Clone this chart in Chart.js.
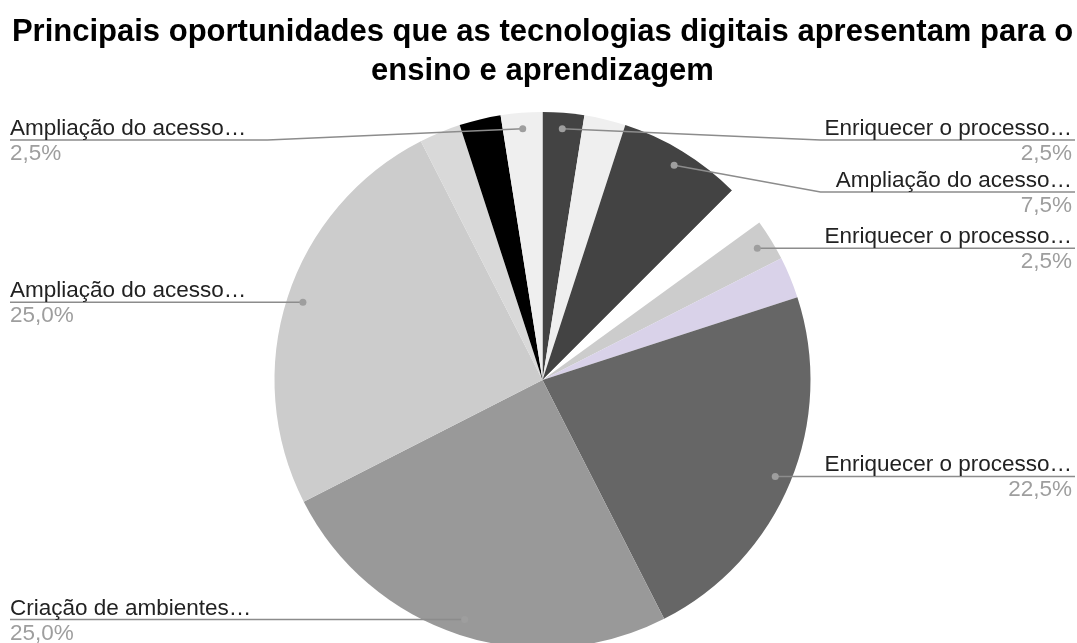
<!DOCTYPE html>
<html>
<head>
<meta charset="utf-8">
<title>Oportunidades das tecnologias digitais</title>
<script src="https://cdn.jsdelivr.net/npm/chart.js@4.4.0/dist/chart.umd.min.js"></script>
<style>
  html, body { margin: 0; padding: 0; background: #fff; overflow: hidden; }
  #wrap { position: relative; width: 1077px; height: 643px; }
</style>
</head>
<body>
<div id="wrap"><canvas id="pieChart"></canvas></div>
<script>
const TITLE_LINES = [
    'Principais oportunidades que as tecnologias digitais apresentam para o',
    'ensino e aprendizagem'
];

// slices clockwise from 12 o'clock; empty name = no outside label
const CATEGORIES = [
    'Enriquecer o processo…', '', 'Ampliação do acesso…', '',
    'Enriquecer o processo…', '', 'Enriquecer o processo…', 'Criação de ambientes…',
    'Ampliação do acesso…', '', '', 'Ampliação do acesso…'
];
const VALUES = [2.5, 2.5, 7.5, 2.5, 2.5, 2.5, 22.5, 25, 25, 2.5, 2.5, 2.5];

const SLICE_COLORS = [
    '#434343', '#efefef', '#434343', '#ffffff',
    '#cccccc', '#d9d2e9', '#666666', '#999999',
    '#cccccc', '#d9d9d9', '#000000', '#efefef'
];

const LABEL_FONT = "22.5px 'Liberation Sans', Arial, sans-serif";

function pctText(v, total) {
    return (v / total * 100).toFixed(1).replace('.', ',') + '%';
}

// leader-line labels: dot inside the slice, line out to the side, name above, % below
const leaderLabels = {
    id: 'leaderLabels',
    afterDatasetsDraw(chart, args, opts) {
        const ctx = chart.ctx;
        const meta = chart.getDatasetMeta(0);
        const values = chart.data.datasets[0].data;
        const total = values.reduce((a, b) => a + b, 0);
        const sides = { left: [], right: [] };

        meta.data.forEach((arc, i) => {
            const name = chart.data.labels[i];
            if (!name) return;
            const p = arc.getProps(['x', 'y', 'startAngle', 'endAngle', 'outerRadius'], true);
            const mid = (p.startAngle + p.endAngle) / 2;
            const r = p.outerRadius * opts.dotRatio;
            const item = {
                name: name,
                pct: pctText(values[i], total),
                dx: p.x + Math.cos(mid) * r,
                dy: p.y + Math.sin(mid) * r,
                cx: p.x,
                R: p.outerRadius
            };
            sides[Math.cos(mid) >= 0 ? 'right' : 'left'].push(item);
        });

        const minY = chart.chartArea.top + opts.topGap;
        ctx.save();
        ctx.font = LABEL_FONT;
        for (const side of ['left', 'right']) {
            const list = sides[side].sort((a, b) => a.dy - b.dy);
            let prev = -Infinity;
            for (const it of list) {
                const ly = Math.max(it.dy, minY, prev + opts.gap);
                prev = ly;
                const right = side === 'right';
                const elbowX = right ? it.cx + it.R + 10 : it.cx - it.R - 7;
                const endX = right ? chart.width - 2 : 10;

                ctx.strokeStyle = opts.lineColor;
                ctx.lineWidth = 1.5;
                ctx.beginPath();
                ctx.moveTo(it.dx, it.dy);
                if (ly !== it.dy) ctx.lineTo(elbowX, ly);
                ctx.lineTo(endX, ly);
                ctx.stroke();

                ctx.fillStyle = opts.dotColor;
                ctx.beginPath();
                ctx.arc(it.dx, it.dy, 3.5, 0, Math.PI * 2);
                ctx.fill();

                ctx.textAlign = right ? 'right' : 'left';
                ctx.textBaseline = 'alphabetic';
                const tx = right ? chart.width - 5 : 10;
                ctx.fillStyle = '#222222';
                ctx.fillText(it.name, tx, ly - 5);
                ctx.fillStyle = '#9e9e9e';
                ctx.fillText(it.pct, tx, ly + 20);
            }
        }
        ctx.restore();
    }
};

const chart = new Chart(document.getElementById('pieChart'), {
    type: 'pie',
    data: {
        labels: CATEGORIES,
        datasets: [{
            data: VALUES,
            backgroundColor: SLICE_COLORS,
            borderWidth: 0,
            hoverOffset: 0,
            clip: false
        }]
    },
    options: {
        responsive: true,
        maintainAspectRatio: false,
        animation: false,
        radius: 268,
        layout: { padding: { left: 8, right: 0, top: 0, bottom: 0 } },
        plugins: {
            legend: { display: false },
            tooltip: { enabled: false },
            title: {
                display: true,
                text: TITLE_LINES,
                color: '#000000',
                font: { family: "'Liberation Sans', Arial, sans-serif", size: 31, weight: 'bold', lineHeight: 1.25 },
                padding: { top: 13.2, bottom: 26.3 }
            },
            leaderLabels: {
                dotRatio: 0.94,
                gap: 52,
                topGap: 23,
                lineColor: '#8c8c8c',
                dotColor: '#9e9e9e'
            }
        }
    },
    plugins: [leaderLabels]
});
</script>
</body>
</html>
